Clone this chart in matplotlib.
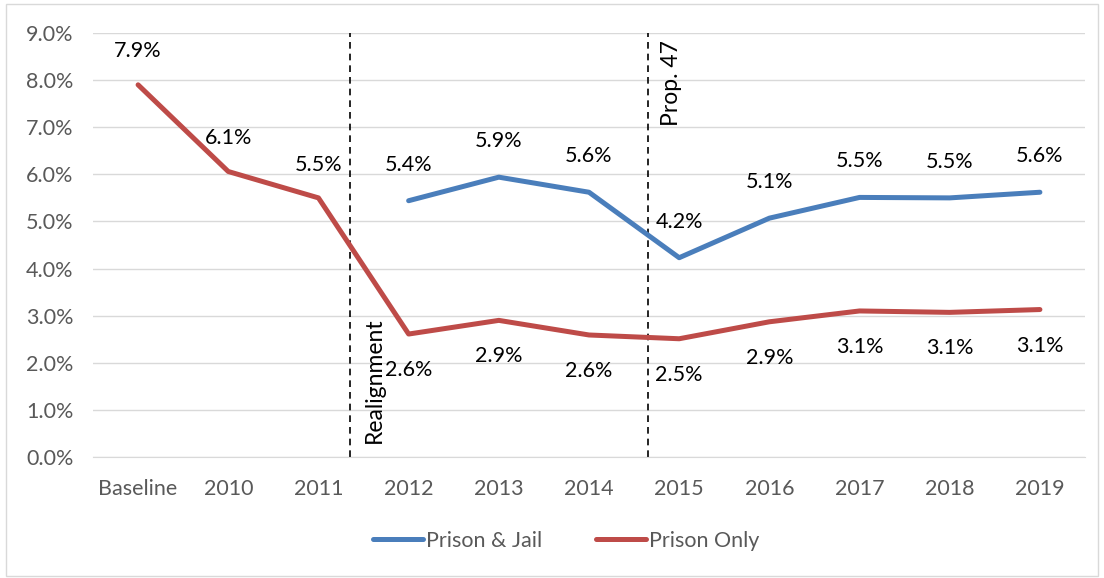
import matplotlib
matplotlib.use("Agg")
import matplotlib.pyplot as plt
from matplotlib.patches import Rectangle
from matplotlib.ticker import FuncFormatter
import numpy as np

categories = ["Baseline", "2010", "2011", "2012", "2013", "2014", "2015", "2016", "2017", "2018", "2019"]
prison_jail = [None, None, None, 5.44, 5.94, 5.62, 4.23, 5.07, 5.51, 5.50, 5.62]
prison_only = [7.90, 6.06, 5.50, 2.61, 2.90, 2.59, 2.51, 2.87, 3.10, 3.07, 3.13]
pj_labels = [None, None, None, "5.4%", "5.9%", "5.6%", "4.2%", "5.1%", "5.5%", "5.5%", "5.6%"]
po_labels = ["7.9%", "6.1%", "5.5%", "2.6%", "2.9%", "2.6%", "2.5%", "2.9%", "3.1%", "3.1%", "3.1%"]
events = [("Realignment", 2.355), ("Prop. 47", 5.65)]
yticks = [0, 1, 2, 3, 4, 5, 6, 7, 8, 9]

plt.rcParams['font.family'] = ['Lato', 'DejaVu Sans']

blue = "#4A7EBB"
red = "#BE4B48"
gray_text = "#595959"
fs = 15.5

fig = plt.figure(figsize=(11.04, 5.78), dpi=100)
fig.patches.append(Rectangle((6/1104, 2/578), 1092/1104, 572/578, transform=fig.transFigure,
                             fill=False, edgecolor="#d9d9d9", linewidth=1))
ax = fig.add_axes([93/1104, 1-457/578, (1085-93)/1104, (457-33)/578])

x = np.arange(len(categories))
pj_x = [i for i, v in enumerate(prison_jail) if v is not None]
pj_y = [v for v in prison_jail if v is not None]
ax.plot(pj_x, pj_y, color=blue, lw=3.6, solid_capstyle='round', solid_joinstyle='round', label="Prison & Jail", zorder=3)
ax.plot(x, prison_only, color=red, lw=3.6, solid_capstyle='round', solid_joinstyle='round', label="Prison Only", zorder=3)

for i, (v, lab) in enumerate(zip(prison_jail, pj_labels)):
    if v is not None:
        ax.annotate(lab, (i, v), xytext=(0, 26), textcoords="offset points", ha="center", va="center",
                    fontsize=fs, color="black", zorder=4)
for i, (v, lab) in enumerate(zip(prison_only, po_labels)):
    off = 24 if i < 3 else -26
    ax.annotate(lab, (i, v), xytext=(0, off), textcoords="offset points", ha="center", va="center",
                fontsize=fs, color="black", zorder=4)

for name, xpos in events:
    ax.plot([xpos, xpos], [0, 9], color="black", lw=1.2, ls=(0, (4, 3)), zorder=2)
ax.text(2.355 + 0.27, 0.3, "Realignment", rotation=90, ha="center", va="bottom", fontsize=16.5, color="black")
ax.text(5.65 + 0.27, 8.85, "Prop. 47", rotation=90, ha="center", va="top", fontsize=16.5, color="black")

ax.set_xlim(-0.5, len(categories) - 0.5)
ax.set_ylim(0, 9)
ax.set_yticks(yticks)
ax.yaxis.set_major_formatter(FuncFormatter(lambda v, p: f"{v:.1f}%"))
ax.set_xticks(x)
ax.set_xticklabels(categories)
ax.grid(axis="y", color="#d9d9d9", lw=1)
ax.set_axisbelow(True)
for s in ["top", "right", "left"]:
    ax.spines[s].set_visible(False)
ax.spines["bottom"].set_color("#d9d9d9")
ax.tick_params(axis="both", length=0, labelsize=fs, labelcolor=gray_text)
ax.tick_params(axis="x", pad=16)
ax.tick_params(axis="y", pad=14)

leg = fig.legend(loc="center", bbox_to_anchor=(0.513, 1-541/578), ncol=2, frameon=False,
                 fontsize=fs, handlelength=2.3, handletextpad=0.15, columnspacing=2.5)
for t in leg.get_texts():
    t.set_color(gray_text)

fig.savefig("out.png", dpi=100)
